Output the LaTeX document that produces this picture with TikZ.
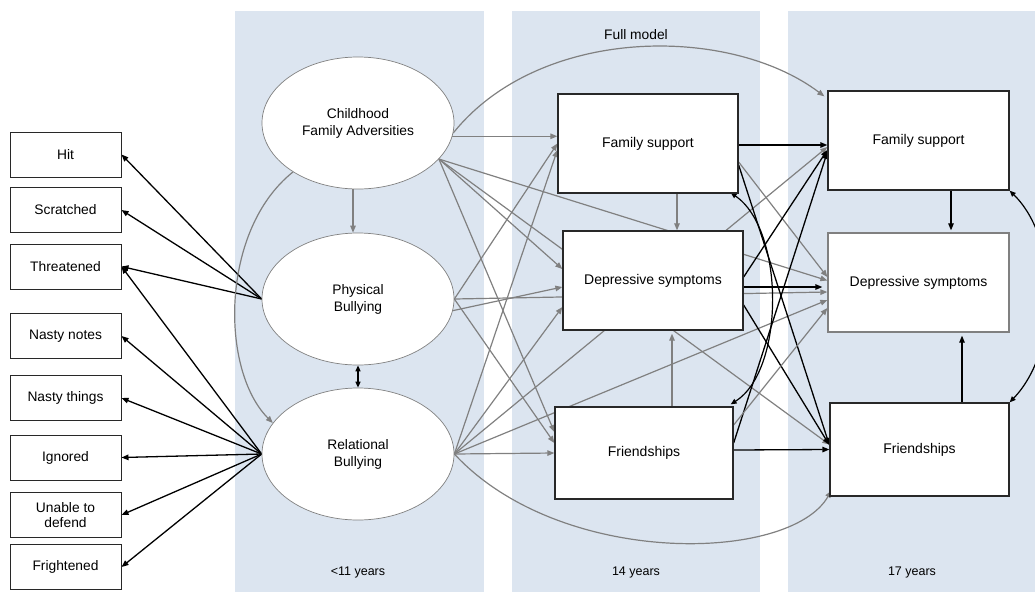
\documentclass[tikz,border=0pt]{standalone}
\usepackage{fontspec}
\setmainfont{Liberation Sans}
\usetikzlibrary{arrows.meta,shapes.geometric,calc}
\definecolor{bandc}{RGB}{220,229,240}
\definecolor{gline}{RGB}{128,128,128}
\definecolor{bord}{RGB}{40,40,40}
\pgfdeclarelayer{bg}
\pgfdeclarelayer{edges}
\pgfsetlayers{bg,edges,main}
\begin{document}
\begin{tikzpicture}[x=1pt,y=-1pt,
  ind/.style={draw=bord,line width=1pt,fill=white,minimum width=111pt,minimum height=45pt,inner sep=0pt,font=\fontsize{13.8}{15}\selectfont,align=center},
  lat/.style={ellipse,draw=gline,line width=0.7pt,fill=white,minimum width=192pt,minimum height=132pt,inner sep=0pt,font=\fontsize{13.8}{17}\selectfont,align=center},
  obs/.style={draw=bord,line width=1.3pt,fill=white,inner sep=0pt,font=\fontsize{14}{17}\selectfont},
  lab/.style={font=\fontsize{12.5}{15}\selectfont,inner sep=0pt},
  tip/.style={-{Triangle[length=7pt,width=5.5pt]}},
  dtip/.style={{Triangle[length=6pt,width=5pt]}-{Triangle[length=6pt,width=5pt]}},
  ga/.style={draw=gline,line width=1.2pt,tip},
  gl/.style={draw=gline,line width=1.2pt},
  ba/.style={draw=black,line width=1.3pt,tip},
]
\useasboundingbox (0,0) rectangle (1035,592);
\begin{pgfonlayer}{bg}
\fill[bandc] (235,11) rectangle (484,592);
\fill[bandc] (512,11) rectangle (760,592);
\fill[bandc] (788,11) rectangle (1035,592);
\end{pgfonlayer}

% indicators
\node[ind] (hit) at (65.5,154.5) {Hit};
\node[ind] (scr) at (65.5,210) {Scratched};
\node[ind] (thr) at (65.5,266.5) {Threatened};
\node[ind] (nno) at (65.5,336) {Nasty notes};
\node[ind] (nth) at (65.5,398) {Nasty things};
\node[ind] (ign) at (65.5,457.5) {Ignored};
\node[ind] (una) at (65.5,515) {Unable to\\defend};
\node[ind] (fri) at (65.5,567) {Frightened};

% latent
\node[lat] (cfa) at (358,123) {Childhood\\Family Adversities};
\node[lat] (phys) at (358,299) {Physical\\Bullying};
\node[lat] (rel) at (358,454) {Relational\\Bullying};

% 14 years
\node[obs,minimum width=180pt,minimum height=99pt] (fs14) at (648,143.5) {Family support};
\node[obs,minimum width=180pt,minimum height=99pt] (dep14) at (653,280.5) {Depressive symptoms};
\node[obs,minimum width=178pt,minimum height=92pt] (fr14) at (644,453) {Friendships};

% 17 years
\node[obs,minimum width=181pt,minimum height=99pt] (fs17) at (918.5,140.5) {Family support};
\node[obs,draw=gline,minimum width=181pt,minimum height=99pt] (dep17) at (918.5,282.5) {Depressive symptoms};
\node[obs,minimum width=179pt,minimum height=93pt] (fr17) at (919.5,449.5) {Friendships};

% labels
\node[lab,font=\fontsize{13.8}{15}\selectfont] (full) at (636,35) {Full model};
\node[lab] (y11) at (358,572) {<11 years};
\node[lab] (y14) at (636,572) {14 years};
\node[lab] (y17) at (912,572) {17 years};

\begin{pgfonlayer}{edges}
% measurement
\foreach \t in {hit,scr,thr}{\draw[ba] (phys.west) -- (\t.east);}
\foreach \t in {thr,nno,nth,ign,una,fri}{\draw[ba] (rel.west) -- (\t.east);}
\draw[black,line width=1.3pt,dtip] (phys.south) -- (rel.north);
\draw[ga] ($(cfa.south)+(-5,0)$) -- ($(phys.north)+(-5,0)$);
\draw[ga] (cfa.217) .. controls (220,230) and (220,370) .. (rel.160);

% CFA paths
\draw[ga] (cfa.-8) -- (fs14.west |- {$(cfa.-8)$});
\draw[ga] (cfa.-6) .. controls (540,25) and (730,25) .. ($(fs17.north west)+(-3,6)$);
\draw[ga] (cfa.-24) -- ($(dep14.west)+(0,-11.5)$);
\draw[ga] (cfa.-24) -- ($(fr14.west)+(0,-21)$);
\draw[ga] (cfa.-24) -- ($(dep17.west)+(0,-2)$);
\draw[ga] (cfa.-24) -- ($(fr17.west)+(0,-5)$);

% Physical paths
\draw[ga] (phys.-7) -- ($(dep14.west)+(0,6.5)$);
\draw[ga] (phys.east) -- (fs14.west);
\draw[ga] (phys.east) -- ($(fr14.west)+(0,-10)$);
\draw[ga] (phys.east) -- ($(dep17.west)+(0,9.5)$);

% Relational paths
\draw[ga] (rel.east) -- ($(fs14.west)+(0,6.5)$);
\draw[ga] (rel.east) -- ($(dep14.west)+(0,26.5)$);
\draw[ga] (rel.east) -- (fr14.west);
\draw[ga] (rel.east) -- ($(dep17.west)+(0,17.5)$);
\draw[ga] (rel.east) -- ($(fs17.west)+(0,6.5)$);
\draw[ga] (rel.east) .. controls (560,568) and (790,563) .. ($(fr17.south west)+(2,-6)$);

% within 14
\draw[ga] ($(fs14.south)+(29,0)$) -- ($(dep14.north)+(24,0)$);
\draw[ga,shorten >=3pt] ($(fr14.north)+(28,0)$) -- ($(dep14.south)+(19,0)$);
\draw[black,line width=1.2pt,dtip] ($(fs14.south east)+(-8,-1)$) .. controls (785,230) and (785,370) .. ($(fr14.north east)+(-3,-2)$);

% 14 -> 17
\draw[ba] ($(fs14.east)+(0,1.5)$) -- ($(fs17.west)+(0,4.5)$);
\draw[ga] ($(fs14.east)+(0,18.5)$) -- ($(dep17.west)+(0,-5.5)$);
\draw[ba] ($(fs14.east)+(0,21.5)$) -- ($(fr17.west)+(0,-4.5)$);
\draw[ba] ($(dep14.east)+(0,-3.5)$) -- ($(fs17.west)+(0,9.5)$);
\draw[ba,shorten >=5pt] ($(dep14.east)+(0,6.5)$) -- ($(dep17.west)+(0,4.5)$);
\draw[ba] ($(dep14.east)+(0,24.5)$) -- ($(fr17.west)+(0,-4.5)$);
\draw[ba] ($(fr14.east)+(0,-10)$) -- ($(fs17.west)+(0,11.5)$);
\draw[ga] ($(fr14.east)+(0,-28)$) -- ($(dep17.west)+(0,25.5)$);
\draw[ba] ($(fr14.east)+(0,-3)$) -- (fr17.west);

% within 17
\draw[ba,line width=1.2pt,shorten >=2pt] ($(fs17.south)+(32.5,0)$) -- ($(dep17.north)+(32.5,0)$);
\draw[ba,line width=1.2pt,shorten >=3pt] ($(fr17.north)+(42.5,0)$) -- ($(dep17.south)+(43.5,0)$);
\draw[black,line width=1.2pt,dtip] (fs17.south east) .. controls (1060,240) and (1060,350) .. (fr17.north east);
\end{pgfonlayer}
\end{tikzpicture}
\end{document}
